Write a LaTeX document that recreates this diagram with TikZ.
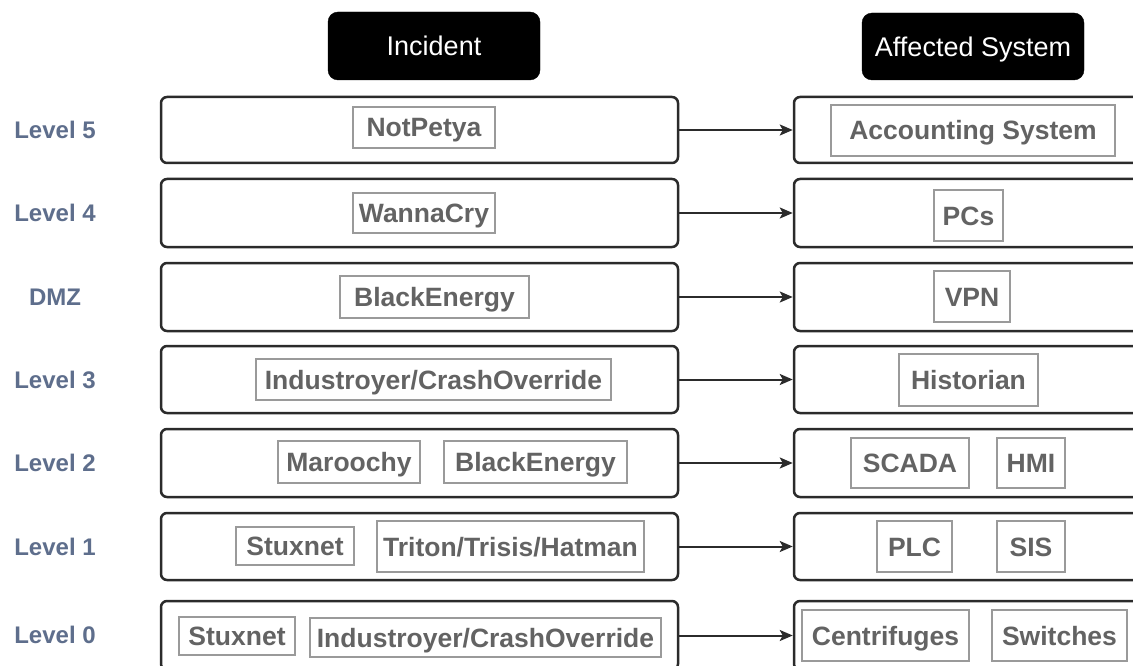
\documentclass[tikz,border=0pt]{standalone}
\usepackage{fontspec}
\setmainfont{Liberation Sans}
\usetikzlibrary{arrows.meta}
\definecolor{outline}{HTML}{2B2B2B}
\definecolor{innerline}{HTML}{9A9A9A}
\definecolor{innertext}{HTML}{636363}
\definecolor{levelcol}{RGB}{94,110,140}
\tikzset{
  outerbox/.style={draw=outline, line width=2.5pt, rounded corners=6pt, fill=white, inner sep=0pt},
  innerbox/.style={draw=innerline, line width=1.4pt, inner sep=0pt, text=innertext,
     text height=23pt, text depth=4pt,
     font=\fontsize{26.5}{30}\selectfont\bfseries},
  header/.style={fill=black, draw=black, rounded corners=10pt, text=white, inner sep=0pt,
     text height=23.5pt, text depth=4pt,
     font=\fontsize{27}{30}\selectfont},
  levellabel/.style={text=levelcol, font=\fontsize{24}{28}\selectfont\bfseries, inner sep=0pt,
     text height=21pt, text depth=3.8pt},
  arr/.style={draw=outline, line width=2pt, -{Stealth[length=13pt,width=11pt,inset=3pt]}}
}
\begin{document}
\begin{tikzpicture}[x=1pt,y=-1pt]
\useasboundingbox (0,0) rectangle (1133,666);
\fill[white] (0,0) rectangle (1133,666);

% headers
\node[header, minimum width=212pt, minimum height=68pt] (hinc) at (434,46) {Incident};
\node[header, minimum width=222pt, minimum height=67pt] (haff) at (973,46.5) {Affected System};

% outer boxes left
\node[outerbox, minimum width=517pt, minimum height=66pt] (l5) at (419.5,130) {};
\node[outerbox, minimum width=517pt, minimum height=68pt] (l4) at (419.5,213) {};
\node[outerbox, minimum width=517pt, minimum height=68pt] (ld) at (419.5,297) {};
\node[outerbox, minimum width=517pt, minimum height=67pt] (l3) at (419.5,379.5) {};
\node[outerbox, minimum width=517pt, minimum height=68pt] (l2) at (419.5,463) {};
\node[outerbox, minimum width=517pt, minimum height=67pt] (l1) at (419.5,546.5) {};
\node[outerbox, minimum width=517pt, minimum height=69pt] (l0) at (419.5,635.5) {};

% outer boxes right
\node[outerbox, minimum width=351pt, minimum height=66pt] (r5) at (969.5,130) {};
\node[outerbox, minimum width=351pt, minimum height=68pt] (r4) at (969.5,213) {};
\node[outerbox, minimum width=351pt, minimum height=68pt] (rd) at (969.5,297) {};
\node[outerbox, minimum width=351pt, minimum height=67pt] (r3) at (969.5,379.5) {};
\node[outerbox, minimum width=351pt, minimum height=68pt] (r2) at (969.5,463) {};
\node[outerbox, minimum width=351pt, minimum height=67pt] (r1) at (969.5,546.5) {};
\node[outerbox, minimum width=351pt, minimum height=69pt] (r0) at (969.5,635.5) {};

% level labels
\node[levellabel] (lab5) at (55,130) {Level 5};
\node[levellabel] (lab4) at (55,213) {Level 4};
\node[levellabel] (labd) at (55,297) {DMZ};
\node[levellabel] (lab3) at (55,379.5) {Level 3};
\node[levellabel] (lab2) at (55,463) {Level 2};
\node[levellabel] (lab1) at (55,546.5) {Level 1};
\node[levellabel] (lab0) at (55,635) {Level 0};

% inner boxes left
\node[innerbox, minimum width=142pt, minimum height=41pt] (notpetya) at (424,127.5) {NotPetya};
\node[innerbox, minimum width=142pt, minimum height=40pt] (wannacry) at (424,213) {WannaCry};
\node[innerbox, minimum width=189pt, minimum height=42pt] (bedmz) at (434.5,297) {BlackEnergy};
\node[innerbox, minimum width=355pt, minimum height=41pt] (ind3) at (433.5,379.5) {Industroyer/CrashOverride};
\node[innerbox, minimum width=142pt, minimum height=42pt] (maroochy) at (349,462) {Maroochy};
\node[innerbox, minimum width=183pt, minimum height=42pt] (be2) at (535.5,462) {BlackEnergy};
\node[innerbox, minimum width=118pt, minimum height=38pt] (stux1) at (295,546) {Stuxnet};
\node[innerbox, minimum width=267pt, minimum height=51pt] (triton) at (510.5,546.5) {Triton/Trisis/Hatman};
\node[innerbox, minimum width=116pt, minimum height=38pt] (stux0) at (237,636) {Stuxnet};
\node[innerbox, minimum width=351pt, minimum height=39pt] (ind0) at (485.5,637.5) {Industroyer/CrashOverride};

% inner boxes right
\node[innerbox, minimum width=284pt, minimum height=51pt] (acct) at (973,130.5) {Accounting System};
\node[innerbox, minimum width=69pt, minimum height=51pt] (pcs) at (968.5,215.5) {PCs};
\node[innerbox, minimum width=76pt, minimum height=51pt] (vpn) at (972,296.5) {VPN};
\node[innerbox, minimum width=139pt, minimum height=52pt] (hist) at (968.5,380) {Historian};
\node[innerbox, minimum width=118pt, minimum height=50pt] (scada) at (910,463) {SCADA};
\node[innerbox, minimum width=68pt, minimum height=50pt] (hmi) at (1031,463) {HMI};
\node[innerbox, minimum width=75pt, minimum height=51pt] (plc) at (914.5,546.5) {PLC};
\node[innerbox, minimum width=68pt, minimum height=51pt] (sis) at (1031,546.5) {SIS};
\node[innerbox, minimum width=167pt, minimum height=51pt] (centri) at (885.5,635.5) {Centrifuges};
\node[innerbox, minimum width=135pt, minimum height=51pt] (switch) at (1059.5,635.5) {Switches};

% arrows
\draw[arr] (l5.east) -- (r5.west);
\draw[arr] (l4.east) -- (r4.west);
\draw[arr] (ld.east) -- (rd.west);
\draw[arr] (l3.east) -- (r3.west);
\draw[arr] (l2.east) -- (r2.west);
\draw[arr] (l1.east) -- (r1.west);
\draw[arr] (l0.east) -- (r0.west);
\end{tikzpicture}
\end{document}
